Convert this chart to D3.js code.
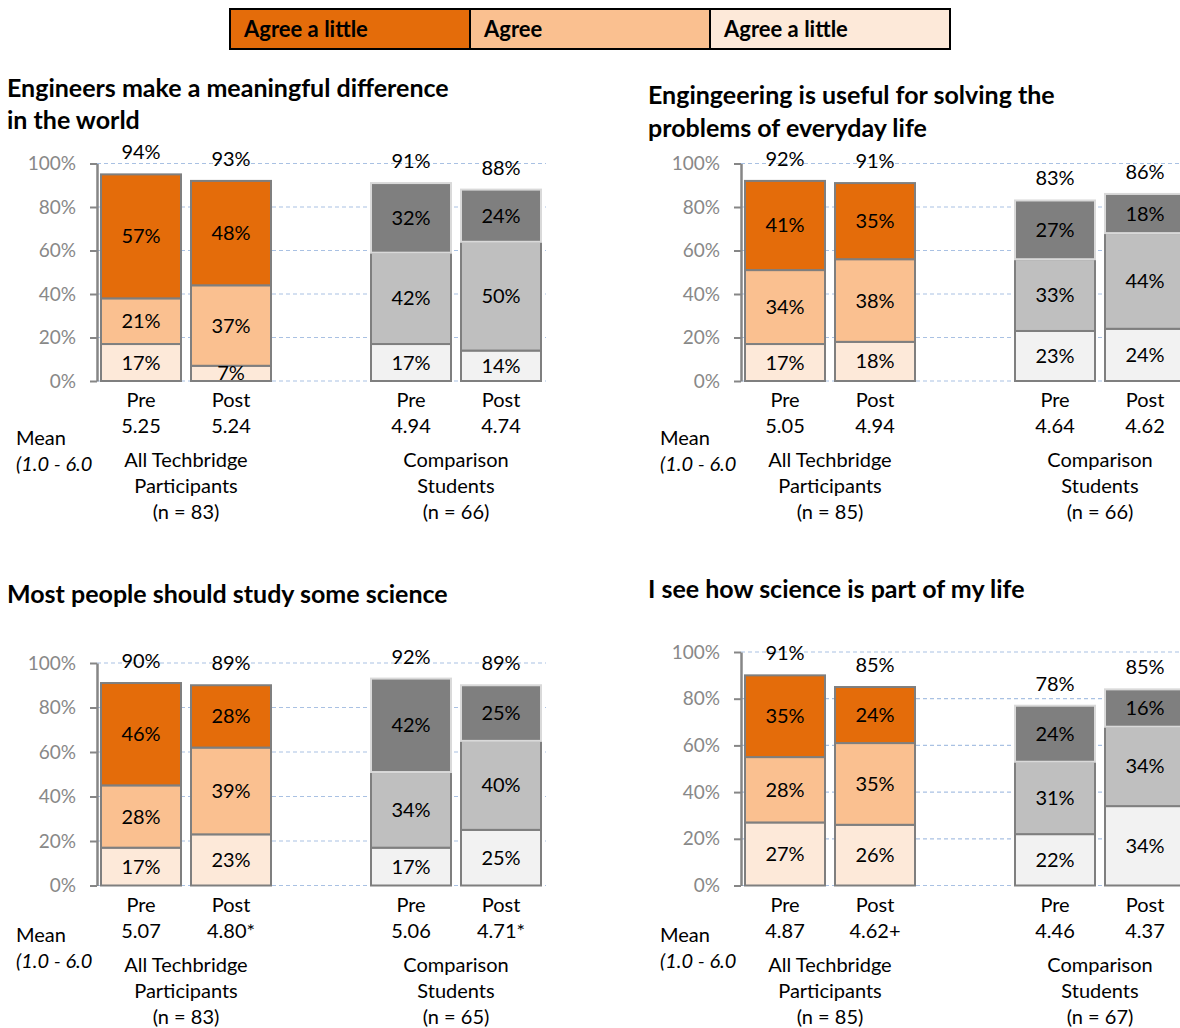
<!DOCTYPE html>
<html>
<head>
<meta charset="utf-8">
<script src="https://cdn.jsdelivr.net/npm/d3@7"></script>
<style>
  html, body { margin: 0; padding: 0; background: #fff; }
  svg { display: block; font-family: Lato, "Open Sans", sans-serif; }
</style>
</head>
<body>
<svg id="chart" width="1180" height="1028"></svg>
<script>
// ---------------- DATA ----------------
const legendLabels = ["Agree a little", "Agree", "Agree a little"];
const barKeys = ["Pre", "Post", "", "Pre", "Post"];
const groupLines = [["All Techbridge", "Participants"], ["Comparison", "Students"]];
const meanLines = ["Mean", "(1.0 - 6.0"];
const yTicks = [0, 20, 40, 60, 80, 100];

const titles = [
  ["Engineers make a meaningful difference", "in the world"],
  ["Engingeering is useful for solving the", "problems of everyday life"],
  ["Most people should study some science"],
  ["I see how science is part of my life"]
];

// order of bars: Techbridge Pre, Techbridge Post, Comparison Pre, Comparison Post
const lightValues = [
  [17, 7, 17, 14],
  [17, 18, 23, 24],
  [17, 23, 17, 25],
  [27, 26, 22, 34]
];
const midValues = [
  [21, 37, 42, 50],
  [34, 38, 33, 44],
  [28, 39, 34, 40],
  [28, 35, 31, 34]
];
const darkValues = [
  [57, 48, 32, 24],
  [41, 35, 27, 18],
  [46, 28, 42, 25],
  [35, 24, 24, 16]
];
const totalValues = [
  [94, 93, 91, 88],
  [92, 91, 83, 86],
  [90, 89, 92, 89],
  [91, 85, 78, 85]
];
const meanValues = [
  ["5.25", "5.24", "4.94", "4.74"],
  ["5.05", "4.94", "4.64", "4.62"],
  ["5.07", "4.80*", "5.06", "4.71*"],
  ["4.87", "4.62+", "4.46", "4.37"]
];
const nValues = [
  [83, 66],
  [85, 66],
  [83, 65],
  [85, 67]
];

// ---------------- STYLE / LAYOUT ----------------
const orangeFill = ["#FDE9D9", "#FAC090", "#E46C0A"];
const grayFill = ["#F2F2F2", "#BFBFBF", "#7F7F7F"];
const orangeStroke = ["#7F7F7F", "#7F7F7F", "#7F7F7F"];
const grayStroke = ["#7F7F7F", "#7F7F7F", "#D9D9D9"];
const FS = 20;

const layout = [
  { dx: 0,   titleX: 7, y100: 163.5, y0: 381, titleY: [97, 129], meanDy: 64, rangeDy: 90 },
  { dx: 644, titleX: 4, y100: 163.5, y0: 381, titleY: [104, 137], meanDy: 64, rangeDy: 90 },
  { dx: 0,   titleX: 7, y100: 663,   y0: 885.5, titleY: [603], meanDy: 56, rangeDy: 82 },
  { dx: 644, titleX: 4, y100: 652,   y0: 885.5, titleY: [598], meanDy: 56, rangeDy: 82 }
];

const svg = d3.select("#chart");

// ---------------- LEGEND ----------------
const legX = d3.scaleBand().domain(d3.range(3)).range([230, 950]);
const leg = svg.append("g");
leg.selectAll("rect").data(legendLabels).join("rect")
  .attr("x", (d, i) => legX(i)).attr("y", 9)
  .attr("width", legX.bandwidth()).attr("height", 40)
  .attr("fill", (d, i) => orangeFill[2 - i])
  .attr("stroke", "#000").attr("stroke-width", 2);
leg.selectAll("text").data(legendLabels).join("text")
  .attr("x", (d, i) => legX(i) + 14).attr("y", 36.5)
  .attr("font-size", 22).attr("font-weight", "bold").attr("fill", "#000")
  .text(d => d);

// ---------------- PANELS ----------------
const barIdx = [0, 1, 3, 4]; // positions in barKeys
layout.forEach((L, p) => {
  const g = svg.append("g").attr("transform", `translate(${L.dx},0)`);
  const x = d3.scalePoint().domain(d3.range(5)).range([141, 501]);
  const bw = 80;
  const y = d3.scaleLinear().domain([0, 100]).range([L.y0, L.y100]);

  // title
  g.append("g").selectAll("text").data(titles[p]).join("text")
    .attr("x", L.titleX).attr("y", (d, i) => L.titleY[i])
    .attr("font-size", 25).attr("font-weight", "bold").attr("fill", "#000")
    .text(d => d);

  // gridlines
  g.append("g").selectAll("line").data(yTicks).join("line")
    .attr("x1", 97).attr("x2", 546)
    .attr("y1", d => y(d)).attr("y2", d => y(d))
    .attr("stroke", "#A9C1E3").attr("stroke-width", 1.2)
    .attr("stroke-dasharray", "4,3");

  // axis
  const ax = g.append("g").attr("transform", "translate(97,0)")
    .call(d3.axisLeft(y).tickValues(yTicks).tickFormat(d => d + "%")
      .tickSize(7).tickSizeOuter(0).tickPadding(14));
  ax.select(".domain").attr("stroke", "#868686").attr("stroke-width", 2.5);
  ax.selectAll(".tick line").attr("stroke", "#868686").attr("stroke-width", 2);
  ax.selectAll(".tick text").attr("fill", "#888").attr("font-size", 19)
    .attr("font-family", "Lato, 'Open Sans', sans-serif");

  // bars
  for (let b = 0; b < 4; b++) {
    const cx = x(barIdx[b]);
    const isComp = b >= 2;
    const vals = [lightValues[p][b], midValues[p][b], darkValues[p][b]];
    let cum = 0;
    const segs = vals.map((v, s) => { const o = { s, v, lo: cum, hi: cum + v }; cum += v; return o; });
    const bg = g.append("g");
    bg.selectAll("rect").data(segs).join("rect")
      .attr("x", cx - bw / 2).attr("width", bw)
      .attr("y", d => y(d.hi)).attr("height", d => y(d.lo) - y(d.hi))
      .attr("fill", d => (isComp ? grayFill : orangeFill)[d.s])
      .attr("stroke", d => (isComp ? grayStroke : orangeStroke)[d.s])
      .attr("stroke-width", 2);
    bg.selectAll("text.seg").data(segs).join("text").attr("class", "seg")
      .attr("x", cx).attr("y", d => y((d.lo + d.hi) / 2) + 7)
      .attr("text-anchor", "middle").attr("font-size", FS).attr("fill", "#000")
      .text(d => d.v + "%");
    // total
    bg.append("text")
      .attr("x", cx).attr("y", y(cum) - 15)
      .attr("text-anchor", "middle").attr("font-size", FS).attr("fill", "#000")
      .text(totalValues[p][b] + "%");
    // Pre/Post label
    bg.append("text")
      .attr("x", cx).attr("y", L.y0 + 26)
      .attr("text-anchor", "middle").attr("font-size", FS).attr("fill", "#000")
      .text(barKeys[barIdx[b]]);
    // mean
    bg.append("text")
      .attr("x", cx).attr("y", L.y0 + 52)
      .attr("text-anchor", "middle").attr("font-size", FS).attr("fill", "#000")
      .text(meanValues[p][b]);
  }

  // Mean labels
  g.append("text").attr("x", 16).attr("y", L.y0 + L.meanDy)
    .attr("font-size", FS).attr("fill", "#000").text(meanLines[0]);
  g.append("text").attr("x", 16).attr("y", L.y0 + L.rangeDy)
    .attr("font-size", FS).attr("font-style", "italic").attr("fill", "#000").text(meanLines[1]);

  // group labels
  [0, 1].forEach(gi => {
    const cx = (x(barIdx[gi * 2]) + x(barIdx[gi * 2 + 1])) / 2;
    const lines = groupLines[gi].concat([`(n = ${nValues[p][gi]})`]);
    g.append("g").selectAll("text").data(lines).join("text")
      .attr("x", cx).attr("y", (d, i) => L.y0 + 86 + i * 26)
      .attr("text-anchor", "middle").attr("font-size", FS).attr("fill", "#000")
      .text(d => d);
  });
});
</script>
</body>
</html>
